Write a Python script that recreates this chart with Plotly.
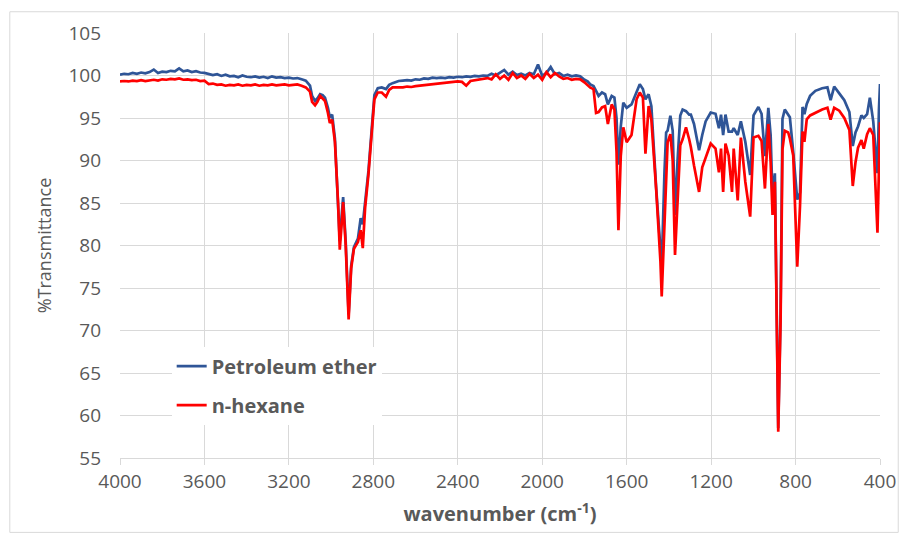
import plotly.graph_objects as go

# ---- data (wavenumber in cm-1, %T) ----
wn_ch = [4000, 3980, 3960, 3940, 3920, 3900, 3880, 3860, 3840, 3820, 3800, 3780, 3760, 3740, 3720,
         3700, 3680, 3660, 3640, 3620, 3600, 3580, 3560, 3540, 3520, 3500, 3480, 3460, 3440, 3420,
         3400, 3380, 3360, 3340, 3320, 3300, 3280, 3260, 3240, 3220, 3200, 3180, 3160, 3140, 3120]
pe_ch = [100.1, 100.2, 100.15, 100.3, 100.2, 100.35, 100.25, 100.4, 100.7, 100.3, 100.45, 100.4, 100.55, 100.5, 100.85,
         100.5, 100.6, 100.4, 100.5, 100.35, 100.3, 100.2, 100.05, 100.15, 99.95, 100.1, 99.9, 99.95, 99.8, 100.0,
         99.85, 99.8, 99.9, 99.75, 99.85, 99.7, 99.9, 99.75, 99.8, 99.7, 99.75, 99.65, 99.7, 99.55, 99.4]
hx_ch = [99.3, 99.35, 99.3, 99.4, 99.35, 99.45, 99.35, 99.45, 99.5, 99.4, 99.55, 99.5, 99.6, 99.55, 99.65,
         99.5, 99.55, 99.45, 99.5, 99.35, 99.4, 99.0, 99.05, 98.9, 98.95, 98.8, 98.9, 98.85, 98.95, 98.8,
         98.9, 98.85, 98.95, 98.8, 98.9, 98.85, 98.95, 98.85, 98.9, 98.95, 98.85, 98.9, 98.95, 98.8, 98.6]

wn_ch2 = [3100, 3090, 3076, 3065, 3052, 3040, 3029, 3015, 3006, 2995, 2982, 2967, 2959, 2950, 2943, 2931,
          2917, 2905, 2892, 2873, 2860, 2850, 2839, 2823, 2807, 2795, 2779, 2760, 2740, 2725, 2709, 2690]
pe_ch2 = [98.8, 97.6, 97.0, 97.3, 97.8, 97.7, 97.4, 96.2, 95.1, 95.4, 92.6, 85.5, 80.5, 83.5, 85.7, 80.5,
          71.9, 77.6, 79.8, 80.8, 83.2, 82.5, 85.2, 88.8, 93.9, 97.7, 98.5, 98.6, 98.4, 98.9, 99.1, 99.3]
hx_ch2 = [98.1, 96.9, 96.5, 96.9, 97.6, 97.3, 97.0, 95.6, 94.4, 94.8, 92.2, 85.0, 79.5, 82.5, 85.1, 80.1,
          71.3, 77.3, 79.6, 80.4, 81.8, 79.7, 84.4, 88.4, 93.5, 97.2, 98.0, 98.0, 97.5, 98.3, 98.6, 98.6]

wn_mid = [2680, 2660, 2640, 2620, 2600, 2580, 2560, 2540, 2520, 2500, 2480, 2460, 2440, 2420, 2400,
          2380, 2360, 2340, 2320, 2300, 2280, 2260, 2240, 2220, 2200, 2180, 2160, 2140, 2120, 2100,
          2080, 2060, 2040, 2020, 2000, 1980, 1960, 1940, 1920, 1900, 1880, 1860, 1840, 1820, 1800]
pe_mid = [99.35, 99.4, 99.45, 99.4, 99.55, 99.5, 99.65, 99.6, 99.75, 99.7, 99.75, 99.7, 99.8, 99.75, 99.85,
          99.8, 99.9, 99.85, 99.95, 99.9, 100.0, 99.95, 100.2, 100.0, 100.3, 100.65, 100.1, 100.45, 100.05, 100.2,
          100.0, 100.3, 100.15, 101.3, 99.95, 100.3, 101.0, 100.15, 100.3, 99.95, 100.1, 99.9, 100.0, 99.9, 99.5]
hx_mid = [98.55, 98.6, 98.7, 98.65, 98.75, 98.8, 98.85, 98.9, 98.95, 99.0, 99.05, 99.1, 99.2, 99.25, 99.3,
          99.25, 98.8, 99.35, 99.45, 99.5, 99.6, 99.7, 99.55, 100.15, 99.6, 100.0, 99.5, 100.3, 99.7, 100.0,
          99.6, 100.2, 99.7, 100.1, 99.5, 100.4, 99.8, 100.3, 99.9, 99.6, 99.7, 99.5, 99.6, 99.55, 99.2]

wn_fp = [1785, 1772, 1757, 1745, 1733, 1717, 1702, 1689, 1671, 1658, 1648, 1639, 1628, 1616, 1600, 1577,
         1553, 1538, 1523, 1511, 1496, 1483, 1460, 1440, 1434, 1421, 1413, 1406, 1393, 1382, 1371, 1359,
         1346, 1335, 1319, 1304, 1296, 1281, 1257, 1242, 1226, 1202, 1179, 1163, 1153, 1143, 1132, 1117,
         1101, 1093, 1074, 1059, 1038, 1015, 999, 976, 961, 945, 929, 918, 909, 898, 882, 871,
         862, 851, 835, 827, 811, 792, 779, 767, 758, 747, 731, 706, 674, 649, 634, 617,
         593, 569, 545, 529, 516, 504, 488, 477, 461, 448, 432, 412, 405, 400]
pe_fp = [99.3, 98.96, 98.77, 98.2, 97.6, 98.0, 97.8, 96.6, 97.6, 97.4, 95.0, 89.5, 94.0, 96.8, 96.2, 96.6,
         98.2, 98.96, 98.4, 97.2, 97.8, 96.4, 86.7, 79.9, 77.4, 88.6, 93.3, 93.5, 95.26, 93.5, 83.6, 90.0,
         95.3, 96.0, 95.8, 95.4, 95.4, 94.3, 91.2, 93.0, 94.6, 95.65, 95.5, 93.8, 95.4, 93.0, 95.4, 93.4,
         93.4, 93.8, 93.0, 94.6, 92.2, 88.3, 95.3, 96.3, 95.5, 90.5, 96.2, 93.0, 85.5, 88.5, 58.5, 72.0,
         94.9, 96.0, 95.4, 95.1, 91.0, 85.4, 86.2, 96.3, 95.45, 96.66, 97.6, 98.2, 98.5, 98.6, 97.1, 98.7,
         97.9, 97.1, 95.7, 91.7, 93.3, 94.0, 95.3, 95.0, 95.45, 97.4, 94.6, 88.5, 96.0, 99.0]
hx_fp = [98.9, 98.57, 98.4, 95.6, 95.7, 96.24, 96.4, 94.3, 96.6, 96.0, 91.0, 81.8, 90.5, 93.9, 92.15, 93.0,
         97.2, 98.0, 97.4, 90.8, 96.4, 94.8, 86.5, 78.1, 74.0, 82.8, 88.6, 92.15, 93.1, 90.0, 78.9, 85.1,
         91.8, 92.5, 93.9, 92.5, 91.6, 89.4, 86.3, 89.2, 90.3, 92.0, 91.4, 88.6, 91.4, 86.3, 92.0, 90.6,
         86.3, 91.4, 85.3, 92.7, 87.5, 83.4, 92.7, 92.9, 92.3, 86.7, 94.3, 89.8, 83.6, 87.5, 58.1, 71.0,
         91.3, 93.5, 93.3, 92.6, 90.6, 77.5, 84.6, 93.4, 92.2, 94.85, 95.3, 95.65, 96.0, 96.2, 94.8, 96.2,
         95.86, 95.0, 93.6, 87.0, 89.8, 91.5, 92.4, 91.4, 93.1, 93.8, 93.0, 81.5, 91.0, 94.5]

wavenumber = wn_ch + wn_ch2 + wn_mid + wn_fp
petroleum_ether = pe_ch + pe_ch2 + pe_mid + pe_fp
n_hexane = hx_ch + hx_ch2 + hx_mid + hx_fp

x_ticks = [4000, 3600, 3200, 2800, 2400, 2000, 1600, 1200, 800, 400]
y_ticks = [55, 60, 65, 70, 75, 80, 85, 90, 95, 100, 105]

grey = "#595959"
grid = "#d9d9d9"

fig = go.Figure()
fig.add_trace(go.Scatter(x=wavenumber, y=petroleum_ether, mode="lines", name="<b>Petroleum ether</b>",
                         legendgroup="a", line=dict(color="#2f5597", width=2.7)))
fig.add_trace(go.Scatter(x=wavenumber, y=n_hexane, mode="lines", name="<b>n-hexane</b>",
                         legendgroup="b", line=dict(color="#ff0000", width=2.7)))

# light chart frame like the spreadsheet border
fig.add_shape(type="rect", xref="paper", yref="paper",
              x0=-0.145, x1=1.024, y0=-0.175, y1=1.05,
              line=dict(color="#d9d9d9", width=1), layer="below")

# page body adds an 8px margin, so keep the figure inside the 917x544 window
fig.update_layout(
    width=900, height=526,
    margin=dict(l=112, r=20, t=22, b=76),
    paper_bgcolor="white", plot_bgcolor="white",
    font=dict(family="Open Sans", color=grey, size=19),
    showlegend=True,
    legend=dict(x=0.068, y=0.262, xanchor="left", yanchor="top",
                bgcolor="white", font=dict(size=20, color=grey, family="Open Sans"),
                tracegroupgap=10, traceorder="grouped"),
    xaxis=dict(range=[4000, 400], tickvals=x_ticks, showgrid=True, gridcolor=grid,
               gridwidth=1, zeroline=False, showline=True, linecolor=grid,
               ticks="outside", ticklen=6, tickcolor=grid,
               tickfont=dict(size=19, color=grey),
               title=dict(text="<b>wavenumber (cm<sup>-1</sup>)</b>", standoff=14,
                          font=dict(size=20, color=grey))),
    yaxis=dict(range=[55, 105], tickvals=y_ticks, showgrid=True, gridcolor=grid,
               gridwidth=1, zeroline=False, showline=False, ticks="",
               ticklabelstandoff=18, tickfont=dict(size=19, color=grey),
               title=dict(text="%Transmittance", standoff=12,
                          font=dict(size=18, color=grey))),
)

fig.write_html("out.html")
